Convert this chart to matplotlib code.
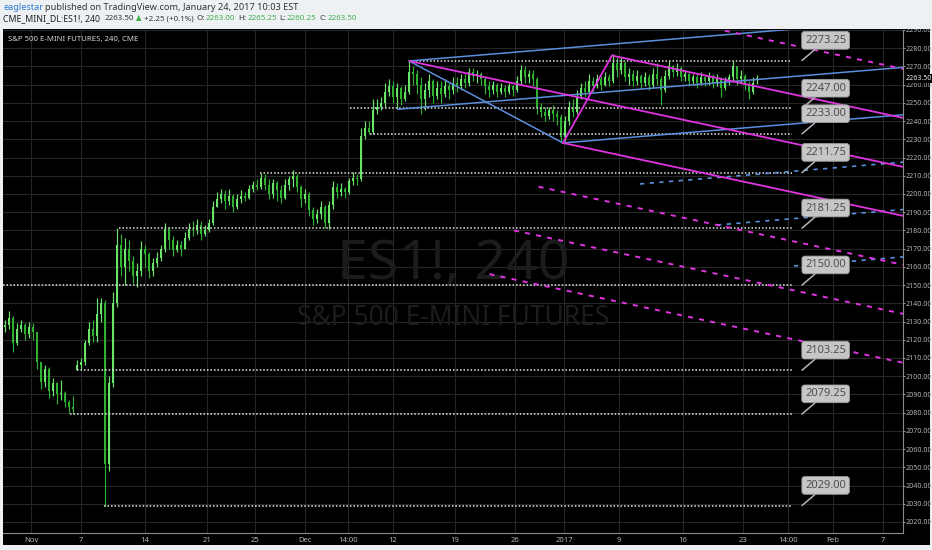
import matplotlib
matplotlib.use("Agg")
import matplotlib.pyplot as plt
from matplotlib.patches import Rectangle
import numpy as np

plt.rcParams['font.family'] = ['Noto Sans Condensed', 'Liberation Sans Narrow', 'Noto Sans', 'DejaVu Sans']
plt.rcParams['font.stretch'] = 'condensed'

# ---------------- data (4h-ish bars, Oct 28 2016 .. Jan 24 2017) ----------------
opens = [2127, 2128, 2132, 2118, 2126, 2128, 2123, 2127, 2124, 2108,
         2097, 2104, 2092, 2096, 2090, 2091, 2086, 2083, 2103.5, 2106,
         2108, 2118, 2126, 2122, 2134, 2140, 2052, 2096, 2140, 2172,
         2160, 2170, 2163, 2155, 2158, 2170, 2167, 2158, 2162, 2165,
         2170, 2181, 2175, 2169, 2172, 2170, 2176, 2181, 2180, 2183,
         2178, 2180, 2184, 2193, 2197, 2200, 2196, 2199, 2193, 2197,
         2199, 2198, 2203, 2205, 2204, 2209, 2205, 2200, 2206, 2202,
         2198, 2205, 2208, 2210, 2204, 2197, 2200, 2191, 2186, 2189,
         2193, 2184, 2194, 2204, 2201, 2203, 2201, 2207, 2209, 2208,
         2232, 2236, 2234, 2246, 2248, 2250, 2256, 2259, 2253, 2258,
         2252, 2256, 2267, 2266, 2260, 2252, 2257, 2262, 2254, 2258,
         2255, 2259, 2257, 2261, 2259, 2263, 2261, 2267, 2265, 2266,
         2263, 2259, 2257, 2260, 2256, 2258, 2256, 2259, 2257, 2262,
         2268, 2264, 2266, 2263, 2248, 2245, 2243, 2246, 2244, 2242,
         2231, 2240, 2248, 2245, 2254, 2258, 2256, 2262, 2259, 2263,
         2260, 2264, 2262, 2272, 2268, 2272, 2264, 2266, 2262, 2265,
         2261, 2264, 2260, 2266, 2263, 2257, 2265, 2270, 2267, 2269,
         2264, 2266, 2262, 2264, 2261, 2264, 2262, 2265, 2261, 2263,
         2258, 2262, 2264, 2270, 2263, 2265, 2260, 2256, 2263.00]
highs = [2131, 2136, 2133, 2129, 2131, 2129, 2130, 2129, 2124, 2108,
         2106, 2105, 2099, 2097, 2098, 2092, 2087, 2089, 2109, 2110,
         2120, 2130, 2131, 2143, 2143, 2142, 2100, 2146, 2181.25, 2178,
         2176, 2175, 2166, 2162, 2174, 2172, 2168, 2165, 2168, 2172,
         2184, 2182, 2177, 2175, 2174, 2179, 2184, 2185, 2186, 2185,
         2183, 2186, 2196, 2201, 2203, 2202, 2203, 2200, 2200, 2202,
         2201, 2205, 2207, 2208, 2211.75, 2211, 2208, 2208, 2207, 2205,
         2208, 2210, 2213, 2211, 2205, 2203, 2201, 2193, 2192, 2196,
         2194, 2196, 2207, 2206, 2206, 2204, 2209, 2212, 2211, 2236,
         2240, 2240, 2252, 2252, 2253, 2261, 2263, 2262, 2261, 2259,
         2260, 2273.25, 2270, 2268, 2264, 2261, 2266, 2263, 2262, 2262,
         2263, 2261, 2264, 2264, 2266, 2266, 2269, 2269, 2268, 2267,
         2264, 2262, 2262, 2261, 2261, 2260, 2261, 2260, 2265, 2271,
         2270, 2268, 2268, 2264, 2250, 2248, 2248, 2249, 2246, 2244,
         2243, 2251, 2252, 2257, 2261, 2262, 2266, 2264, 2266, 2265,
         2267, 2266, 2277, 2275, 2275, 2273, 2269, 2268, 2268, 2266,
         2267, 2266, 2269, 2272, 2265, 2268, 2273, 2271, 2272, 2270,
         2268, 2267, 2266, 2266, 2267, 2265, 2267, 2266, 2266, 2264,
         2264, 2266, 2273, 2270, 2268, 2266, 2262, 2264, 2265.25]
lows = [2124, 2126, 2113, 2117, 2124, 2120, 2121, 2120, 2104, 2093,
        2094, 2088, 2089, 2085, 2087, 2083, 2080, 2079.25, 2103.25, 2104,
        2106, 2117, 2119, 2119, 2130, 2029, 2048, 2094, 2138, 2155,
        2150, 2158, 2151, 2149, 2155, 2160, 2154, 2155, 2160, 2163,
        2168, 2170, 2166, 2168, 2166, 2170, 2175, 2177, 2178, 2175,
        2177, 2179, 2183, 2193, 2195, 2192, 2194, 2190, 2192, 2195,
        2196, 2197, 2201, 2202, 2203, 2202, 2197, 2198, 2196, 2195,
        2197, 2202, 2204, 2201, 2193, 2195, 2188, 2183, 2184, 2186,
        2181.25, 2181, 2192, 2198, 2199, 2198, 2200, 2205, 2205, 2207,
        2230, 2233, 2233, 2244, 2246, 2248, 2254, 2250, 2247, 2249,
        2251, 2255, 2260, 2255, 2244, 2246, 2253, 2250, 2252, 2250,
        2253, 2252, 2255, 2256, 2257, 2258, 2259, 2262, 2261, 2260,
        2255, 2253, 2255, 2253, 2255, 2253, 2255, 2254, 2256, 2260,
        2261, 2261, 2259, 2244, 2242, 2240, 2241, 2240, 2238, 2228,
        2229, 2238, 2242, 2244, 2252, 2253, 2255, 2256, 2258, 2257,
        2259, 2259, 2261, 2264, 2266, 2262, 2260, 2259, 2260, 2258,
        2259, 2257, 2258, 2260, 2249, 2256, 2263, 2264, 2265, 2262,
        2262, 2259, 2260, 2258, 2260, 2259, 2260, 2258, 2259, 2253,
        2257, 2260, 2262, 2260, 2261, 2257, 2252, 2255, 2260.25]
closes = [2128, 2132, 2118, 2126, 2128, 2123, 2127, 2124, 2108, 2097,
          2104, 2092, 2096, 2090, 2091, 2086, 2083, 2082, 2106, 2108,
          2118, 2126, 2122, 2134, 2140, 2052, 2096, 2140, 2172, 2160,
          2170, 2163, 2155, 2158, 2170, 2167, 2158, 2162, 2165, 2170,
          2181, 2175, 2169, 2172, 2170, 2176, 2181, 2180, 2183, 2178,
          2180, 2184, 2193, 2197, 2200, 2196, 2199, 2193, 2197, 2199,
          2198, 2203, 2205, 2204, 2209, 2205, 2200, 2206, 2202, 2198,
          2205, 2208, 2210, 2204, 2197, 2200, 2191, 2186, 2189, 2193,
          2184, 2194, 2204, 2201, 2203, 2201, 2207, 2209, 2208, 2232,
          2236, 2234, 2246, 2248, 2250, 2256, 2259, 2253, 2258, 2252,
          2256, 2267, 2266, 2260, 2252, 2257, 2262, 2254, 2258, 2255,
          2259, 2257, 2261, 2259, 2263, 2261, 2267, 2265, 2266, 2263,
          2259, 2257, 2260, 2256, 2258, 2256, 2259, 2257, 2262, 2268,
          2264, 2266, 2263, 2248, 2245, 2243, 2246, 2244, 2242, 2231,
          2240, 2248, 2245, 2254, 2258, 2256, 2262, 2259, 2263, 2260,
          2264, 2262, 2272, 2268, 2272, 2264, 2266, 2262, 2265, 2261,
          2264, 2260, 2266, 2263, 2257, 2265, 2270, 2267, 2269, 2264,
          2266, 2262, 2264, 2261, 2264, 2262, 2265, 2261, 2263, 2258,
          2262, 2264, 2270, 2263, 2265, 2260, 2256, 2261, 2263.50]

time_tick_pos = [6.5, 19, 35, 50.5, 62.5, 75, 85.75, 97, 112.5, 127.5,
                 139.75, 153.5, 169.5, 184.5, 195.75, 207, 219.5]
time_tick_labels = ['Nov', '7', '14', '21', '25', 'Dec', '14:00', '12', '19', '26',
                    '2017', '9', '16', '23', '14:00', 'Feb', '7']

level_prices = [2273.25, 2247.00, 2233.00, 2211.75, 2181.25, 2150.00, 2103.25, 2079.25, 2029.00]
level_starts = [101, 86.25, 91.25, 63.75, 28.5, -0.5, 18, 16.25, 24.75]
level_end = 196.75

# Andrews pitchforks: handle P0, P1, P2 as (bar, price)
blue_fork = [(98, 2246.45), (101, 2273.0), (139.5, 2228.0)]
blue_levels = [2, 3, 4]            # extra levels on the P2 side
magenta_fork = [(101, 2273.0), (139.5, 2228.0), (151.75, 2276.0)]
magenta_levels = [-2, -3, -4, 2]   # negative: P1 side, positive: P2 side

last_price = 2263.50

# ---------------- figure ----------------
W, H, DPI = 932, 550, 100
BG = '#eef1f4'
fig = plt.figure(figsize=(W / DPI, H / DPI), dpi=DPI, facecolor=BG)


def fx(px):
    return px / W


def fy(py):
    return 1 - py / H


fig.patches.append(Rectangle((fx(3), fy(545)), 927 / W, (545 - 29) / H,
                             transform=fig.transFigure, facecolor='black',
                             edgecolor='none', zorder=-1))

ax = fig.add_axes([fx(3), fy(533), 900 / W, 503 / H])
ax.set_facecolor('black')
XMAX = 224.5
ax.set_xlim(-0.5, XMAX)
ax.set_ylim(2290 - 503 / 1.822, 2290)

# grid / axes
ax.set_yticks(np.arange(2020, 2291, 10))
ax.set_yticklabels([f'{v:.2f}' for v in np.arange(2020, 2291, 10)])
ax.yaxis.tick_right()
ax.set_xticks(time_tick_pos)
ax.set_xticklabels(time_tick_labels)
ax.tick_params(axis='y', colors='#8c8c8c', labelcolor='#b4b4b4', length=1.5,
               width=0.8, labelsize=5.1, pad=0.6)
ax.tick_params(axis='x', colors='#8c8c8c', labelcolor='#b4b4b4', length=0,
               labelsize=5.5, pad=3)
ax.grid(True, color='#262626', linewidth=0.8)
ax.set_axisbelow(True)
for s in ['left', 'top']:
    ax.spines[s].set_visible(False)
for s in ['right', 'bottom']:
    ax.spines[s].set_color('#8c8c8c')
    ax.spines[s].set_linewidth(0.8)

# watermark
ax.text(0.5, 0.533, 'ES1!, 240', transform=ax.transAxes, fontsize=40,
        color='#1c1c1c', ha='center', va='center', zorder=1)
ax.text(0.5, 0.427, 'S&P 500 E-MINI FUTURES', transform=ax.transAxes, fontsize=19,
        color='#1c1c1c', ha='center', va='center', zorder=1)

# candles
o = np.array(opens, float)
h = np.array(highs, float)
l = np.array(lows, float)
c = np.array(closes, float)
x = np.arange(len(c))
up = c >= o
UP_COL, DN_COL = '#6be36b', '#30b030'
cols = np.where(up, UP_COL, DN_COL)
ax.vlines(x, l, h, colors=cols, linewidth=0.85, zorder=3)
ax.bar(x, np.maximum(np.abs(c - o), 0.4), bottom=np.minimum(o, c), width=0.72,
       color=cols, linewidth=0, zorder=4)


# pitchforks
def draw_fork(pts, levels, color, lw, dlw):
    P0, P1, P2 = [np.array(p, float) for p in pts]
    M = (P1 + P2) / 2
    slope = (M[1] - P0[1]) / (M[0] - P0[0])

    def ray(start, **kw):
        ax.plot([start[0], XMAX], [start[1], start[1] + slope * (XMAX - start[0])],
                color=color, zorder=6, solid_capstyle='butt', **kw)

    ax.plot([P1[0], P2[0]], [P1[1], P2[1]], color=color, lw=lw, zorder=6)
    ray(P0, lw=lw)
    ray(P1, lw=lw)
    ray(P2, lw=lw)
    for m in levels:
        side = P2 if m > 0 else P1
        start = M + abs(m) * (side - M)
        ray(start, lw=dlw, linestyle=(0, (2.6, 3.2)))


draw_fork(blue_fork, blue_levels, '#5a8fdc', 1.1, 1.2)
draw_fork(magenta_fork, magenta_levels, '#e034e0', 1.3, 1.4)

# horizontal support / resistance levels with callouts
for p, s in zip(level_prices, level_starts):
    ax.plot([s, level_end], [p, p], color='#e6e6e6', lw=1.1,
            linestyle=(0, (1, 1.3)), zorder=5)
    ax.annotate(f'{p:.2f}', xy=(level_end + 2.5, p), xytext=(17, 14.5),
                textcoords='offset points', ha='center', va='center',
                fontsize=8, color='#4e4e4e', zorder=9, annotation_clip=False,
                bbox=dict(boxstyle='round,pad=0.3,rounding_size=0.25',
                          fc='#c6c6c6', ec='#9e9e9e', lw=0.6),
                arrowprops=dict(arrowstyle='-', color='#b4b4b4', lw=1.1,
                                shrinkA=0, shrinkB=0))

# last price on the axis
ax.annotate(f'{last_price:.2f}', xy=(1, last_price), xycoords=('axes fraction', 'data'),
            xytext=(2, 0), textcoords='offset points', ha='left', va='center',
            fontsize=5.1, color='#f0f0f0', zorder=10, annotation_clip=False,
            bbox=dict(boxstyle='square,pad=0.15', fc='black', ec='none'))

# header band (covers clipped top of axis label)
fig.patches.append(Rectangle((0, fy(29)), 1, 29 / H, transform=fig.transFigure,
                             facecolor=BG, edgecolor='none', zorder=2))

DARK = '#333333'
GREEN = '#3fae49'
renderer = fig.canvas.get_renderer()


def text_row(items, x0, ypx):
    xpos = x0
    for txt, col, wt, size, gap in items:
        t = fig.text(fx(xpos), fy(ypx), txt, color=col, fontsize=size, fontweight=wt,
                     va='center', zorder=5)
        bb = t.get_window_extent(renderer)
        xpos = xpos + bb.width + gap


text_row([('eaglestar', '#2f7bd6', 'normal', 6.6, 2),
          ('published on TradingView.com, January 24, 2017 10:03 EST', DARK, 'normal', 6.6, 0)],
         3, 7)
S2 = 5.7
text_row([('CME_MINI_DL:ES1!, 240', '#222222', 'bold', 6.3, 5),
          ('2263.50', DARK, 'normal', S2, 2),
          ('\u25B2', GREEN, 'normal', S2, 2),
          ('+2.25 (+0.1%)', DARK, 'normal', S2, 3),
          ('O:', DARK, 'normal', S2, 1),
          ('2263.00', GREEN, 'normal', S2, 3),
          ('H:', DARK, 'normal', S2, 1),
          ('2265.25', GREEN, 'normal', S2, 3),
          ('L:', DARK, 'normal', S2, 1),
          ('2260.25', GREEN, 'normal', S2, 3),
          ('C:', DARK, 'normal', S2, 1),
          ('2263.50', GREEN, 'normal', S2, 0)],
         3, 19)

fig.text(fx(8), fy(40), 'S&P 500 E-MINI FUTURES, 240, CME', color='#d8d8d8',
         fontsize=5.6, va='center', zorder=5)

fig.savefig('out.png', dpi=DPI, facecolor=BG)
